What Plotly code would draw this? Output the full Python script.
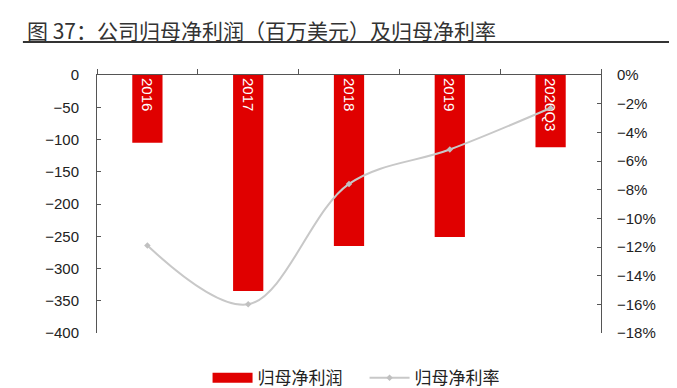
import plotly.graph_objects as go

categories = ["2016", "2017", "2018", "2019", "2020Q3"]
net_profit = [-105, -335, -265, -251, -112]
net_margin = [-0.119, -0.160, -0.076, -0.052, -0.023]

title_text = "图 37：公司归母净利润（百万美元）及归母净利率"
bar_name = "归母净利润"
line_name = "归母净利率"

FONT = "Liberation Sans, Arial, Noto Sans CJK SC, sans-serif"
CJK = "Noto Sans CJK SC, sans-serif"
RED = "#e00000"

fig = go.Figure()
fig.add_trace(go.Bar(
    x=categories, y=net_profit, name=bar_name, showlegend=False,
    marker=dict(color=RED, line=dict(width=0)),
    width=0.3,
    text=categories, textposition="inside", insidetextanchor="start",
    textangle=90, textfont=dict(color="white", size=15, family=FONT),
))
# legend glyph for the bar series (wide red rectangle like the reference)
fig.add_trace(go.Scatter(
    x=[None], y=[None], name=bar_name + "\u2003", mode="lines",
    line=dict(color=RED, width=10),
))
fig.add_trace(go.Scatter(
    x=categories, y=net_margin, name=line_name, yaxis="y2",
    mode="lines+markers", line=dict(color="#c8c8c8", width=2, shape="spline", smoothing=1.0),
    marker=dict(symbol="diamond", size=5, color="#c0c0c0"),
))

axis_color = "#555555"
tick_font = dict(size=15, family=FONT, color="#222222")
fig.update_layout(
    width=669, height=380,
    margin=dict(l=89, r=76, t=67, b=55, autoexpand=False),
    paper_bgcolor="white", plot_bgcolor="white",
    font=dict(family=FONT, size=14, color="#222222"),
    showlegend=True,
    legend=dict(orientation="h", x=0.514, xanchor="center", y=-0.105, yanchor="top",
                font=dict(family=CJK, size=17, color="#222222"),
                itemwidth=40, traceorder="normal", tracegroupgap=0),
    xaxis=dict(side="top", showline=True, linecolor=axis_color, linewidth=1,
               ticks="outside", ticklen=5, tickcolor=axis_color, tickson="boundaries",
               showticklabels=False, showgrid=False, zeroline=False, automargin=False),
    yaxis=dict(range=[-400, 0], dtick=50, showline=True, linecolor=axis_color, linewidth=1,
               ticks="inside", ticklen=4, tickcolor=axis_color, showgrid=False, zeroline=False,
               tickfont=tick_font, ticklabelstandoff=14, automargin=False),
    yaxis2=dict(range=[-0.18, 0], dtick=0.02, tickformat=".0%", overlaying="y", side="right",
                showline=True, linecolor=axis_color, linewidth=1,
                ticks="inside", ticklen=4, tickcolor=axis_color, showgrid=False, zeroline=False,
                tickfont=tick_font, ticklabelstandoff=12, automargin=False),
)

fig.add_annotation(text=title_text, xref="paper", yref="paper", x=-0.143, y=1.174,
                   xanchor="left", yanchor="middle", showarrow=False,
                   font=dict(family=CJK, size=21, color="#333333"))
fig.add_shape(type="line", xref="paper", yref="paper", x0=-0.147, x1=1.16, y0=1.128, y1=1.128,
              line=dict(color="#333333", width=2))

fig.write_html("out.html")
